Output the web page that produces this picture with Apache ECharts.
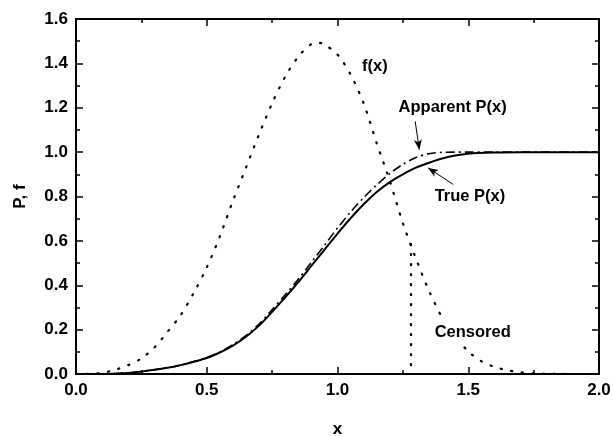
<!DOCTYPE html>
<html>
<head>
<meta charset="utf-8">
<script src="https://cdn.jsdelivr.net/npm/echarts@6/dist/echarts.min.js"></script>
<style>
html,body{margin:0;padding:0;background:#fff;}
#chart{width:613px;height:436px;}
</style>
</head>
<body>
<div id="chart"></div>
<script>
// f(x) (dotted)
var fX = [0, 0.05, 0.1, 0.15, 0.2, 0.25, 0.3, 0.35, 0.4, 0.45, 0.5, 0.55, 0.6, 0.65, 0.7, 0.75, 0.8, 0.85, 0.9, 0.93, 0.95, 1.0, 1.05, 1.1, 1.15, 1.2, 1.25, 1.3, 1.35, 1.4, 1.45, 1.5, 1.55, 1.6, 1.65, 1.7, 1.75, 1.8, 1.9, 2.0];
var fY = [0, 0.001, 0.005, 0.019, 0.04, 0.07, 0.12, 0.19, 0.265, 0.365, 0.48, 0.62, 0.78, 0.93, 1.08, 1.22, 1.34, 1.43, 1.487, 1.493, 1.485, 1.44, 1.35, 1.22, 1.04, 0.87, 0.68, 0.52, 0.375, 0.255, 0.17, 0.102, 0.058, 0.032, 0.017, 0.008, 0.003, 0.001, 0, 0];
// censored f drops to zero here
var censorX = 1.281;
var censorTop = 0.586;

// P(x) curves
var pX = [0, 0.1, 0.2, 0.25, 0.3, 0.35, 0.4, 0.45, 0.5, 0.55, 0.6, 0.65, 0.7, 0.75, 0.8, 0.85, 0.9, 0.95, 1.0, 1.05, 1.1, 1.15, 1.2, 1.25, 1.3, 1.35, 1.4, 1.45, 1.5, 1.6, 1.7, 1.8, 2.0];
var truePY = [0, 0.0005, 0.005, 0.011, 0.019, 0.028, 0.040, 0.055, 0.072, 0.097, 0.128, 0.168, 0.218, 0.28, 0.345, 0.414, 0.487, 0.56, 0.633, 0.702, 0.765, 0.82, 0.865, 0.9, 0.93, 0.952, 0.971, 0.985, 0.993, 0.998, 1.0, 1.0, 1.0];
var apparentPY = [0, 0.0005, 0.005, 0.011, 0.019, 0.028, 0.040, 0.056, 0.074, 0.099, 0.132, 0.173, 0.225, 0.29, 0.357, 0.427, 0.503, 0.58, 0.658, 0.73, 0.795, 0.852, 0.903, 0.945, 0.976, 0.993, 0.999, 1.0, 1.0, 1.0, 1.0, 1.0, 1.0];

// axis ranges
var xMin = 0, xMax = 2, xStep = 0.5;
var yMin = 0, yMax = 1.6, yStep = 0.2;

// annotations (data coords)
var notes = [
	{text: 'f(x)', x: 1.086, y: 1.387},
	{text: 'Apparent P(x)', x: 1.226, y: 1.2},
	{text: 'True P(x)', x: 1.364, y: 0.801},
	{text: 'Censored', x: 1.364, y: 0.188}
];
var arrows = [
	[[1.297, 1.139], [1.313, 1.011]],
	[[1.443, 0.854], [1.347, 0.929]]
];

function pairs(xs, ys){
	return xs.map(function(x, i){ return [x, ys[i]]; });
}

var font = 'Liberation Sans, Arial, sans-serif';

// fresh axis object each time (no shared nested objects)
function makeAxis(min, max, step, pos, withLabels, name, gap){
	var ax = {
		type: 'value', min: min, max: max, interval: step, position: pos,
		axisLine: {show: true, onZero: false, lineStyle: {color: '#000', width: 2}},
		axisTick: {show: true, inside: true, length: 7, lineStyle: {color: '#000', width: 1.5}},
		minorTick: {show: true, splitNumber: 2, length: 4, lineStyle: {color: '#000', width: 1.5}},
		splitLine: {show: false},
		axisLabel: {show: false}
	};
	if(withLabels){
		ax.name = name;
		ax.nameLocation = 'middle';
		ax.nameGap = gap;
		ax.nameTextStyle = {fontFamily: font, fontWeight: 'bold', fontSize: 17, color: '#000'};
		ax.axisLabel = {show: true, fontFamily: font, fontWeight: 'bold', fontSize: 17, color: '#000', margin: 8,
			formatter: function(v){ return v.toFixed(1); }};
	}
	return ax;
}

var chart = echarts.init(document.getElementById('chart'));
chart.setOption({
	animation: false,
	grid: {left: 76, right: 14, top: 19, bottom: 62, outerBoundsMode: 'none',
		show: true, borderColor: '#000', borderWidth: 2},
	xAxis: [
		makeAxis(xMin, xMax, xStep, 'bottom', true, 'x', 47),
		makeAxis(xMin, xMax, xStep, 'top', false)
	],
	yAxis: [
		makeAxis(yMin, yMax, yStep, 'left', true, 'P, f', 47),
		makeAxis(yMin, yMax, yStep, 'right', false)
	],
	series: [
		{
			// plot frame along the axis extents
			type: 'line', clip: false, symbol: 'none', silent: true,
			data: [[xMin, yMin], [xMax, yMin], [xMax, yMax], [xMin, yMax], [xMin, yMin]],
			lineStyle: {color: '#000', width: 2}
		},
		{
			type: 'line', data: pairs(fX, fY), smooth: 0.3, symbol: 'none',
			lineStyle: {color: '#000', width: 2.2, type: [1.2, 9.5], cap: 'round'}
		},
		{
			type: 'line', data: [[censorX, censorTop], [censorX, 0]], symbol: 'none',
			lineStyle: {color: '#000', width: 2.2, type: [1.2, 8.8], cap: 'round'}
		},
		{
			type: 'line', data: pairs(pX, apparentPY), smooth: 0.3, symbol: 'none',
			lineStyle: {color: '#000', width: 1.6, type: [9, 4, 2, 4]}
		},
		{
			type: 'line', data: pairs(pX, truePY), smooth: 0.3, symbol: 'none',
			lineStyle: {color: '#000', width: 2},
			markLine: {
				silent: true, animation: false,
				symbol: ['none', 'arrow'], symbolSize: [6, 10],
				label: {show: false},
				lineStyle: {color: '#000', width: 1, type: 'solid'},
				data: arrows.map(function(a){ return [{coord: a[0]}, {coord: a[1]}]; })
			}
		}
	]
});

// text notes placed through the grid's own scale
chart.setOption({
	graphic: notes.map(function(n){
		var p = chart.convertToPixel({gridIndex: 0}, [n.x, n.y]);
		return {
			type: 'text', x: p[0], y: p[1], z: 50,
			style: {text: n.text, fontFamily: font, fontWeight: 'bold', fontSize: 16.5, fill: '#000',
				verticalAlign: 'middle',
				backgroundColor: n.text === 'Censored' ? '#fff' : null, padding: [5, 2]}
		};
	})
});
</script>
</body>
</html>
